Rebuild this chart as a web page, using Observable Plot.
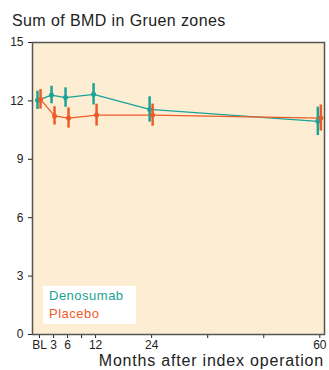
<!DOCTYPE html>
<html>
<head>
<meta charset="utf-8">
<script src="https://cdn.jsdelivr.net/npm/d3@7"></script>
<script src="https://cdn.jsdelivr.net/npm/@observablehq/plot@0.6"></script>
<style>
  body { margin:0; background:#fff; font-family:"Liberation Sans", Arial, Helvetica, sans-serif; }
  #wrap { position:relative; width:329px; height:370px; }
  #title { position:absolute; left:12px; top:12px; font-size:16px; letter-spacing:0.4px; color:#222; white-space:nowrap; }
  #chart { position:absolute; left:0; top:34px; }
  #xlabel { position:absolute; right:5px; top:353px; font-size:16px; letter-spacing:0.8px; line-height:16px; height:16px; color:#222; white-space:nowrap; }
  #legend { position:absolute; left:43px; top:286px; width:93px; height:38px; background:#fff; font-size:13px; letter-spacing:0.5px; }
  #legend div { position:absolute; left:6px; white-space:nowrap; }
</style>
</head>
<body>
<div id="wrap">
  <div id="title">Sum of BMD in Gruen zones</div>
  <div id="chart"></div>
  <div id="legend">
    <div style="top:2px;color:#1aa396">Denosumab</div>
    <div style="top:20px;color:#f05a28">Placebo</div>
  </div>
  <div id="xlabel">Months after index operation</div>
</div>
<script>
const months = [0, 3, 6, 12, 24, 60];
const denoMean = [12.03, 12.30, 12.17, 12.34, 11.56, 10.95];
const denoErr = [0.47, 0.45, 0.50, 0.55, 0.65, 0.73];
const placMean = [12.08, 11.23, 11.12, 11.27, 11.27, 11.12];
const placErr = [0.50, 0.47, 0.52, 0.56, 0.57, 0.67];
const xTicks = [0, 3, 6, 9, 12, 24, 36, 48, 60];
const xTickLabels = ["BL", "3", "6", "", "12", "24", "", "", "60"];
const yTicks = [0, 3, 6, 9, 12, 15];

const teal = "#1aa396", orange = "#f05a28";
const deno = months.map((m, i) => ({m, v: denoMean[i], e: denoErr[i]}));
const plac = months.map((m, i) => ({m, v: placMean[i], e: placErr[i]}));

const chart = Plot.plot({
  width: 329, height: 336,
  marginLeft: 32, marginRight: 5, marginTop: 8, marginBottom: 36,
  style: {fontFamily: '"Liberation Sans", Arial, Helvetica, sans-serif', fontSize: "12px", color: "#222", background: "transparent"},
  x: {domain: [-1.5, 61], ticks: xTicks, tickFormat: d => xTickLabels[xTicks.indexOf(d)], tickSize: 4, tickPadding: 2, label: null},
  y: {domain: [0, 15], ticks: yTicks, tickSize: 4, label: null},
  marks: [
    Plot.frame({fill: "#fdeed3"}),
    Plot.line(deno, {x: "m", y: "v", stroke: teal, strokeWidth: 1.3, dx: -2}),
    Plot.line(plac, {x: "m", y: "v", stroke: orange, strokeWidth: 1.3, dx: 1}),
    Plot.ruleX(deno, {x: "m", y1: d => d.v - d.e, y2: d => d.v + d.e, stroke: teal, strokeWidth: 2.5, dx: -2}),
    Plot.dot(deno, {x: "m", y: "v", fill: teal, r: 2.5, dx: -2}),
    Plot.ruleX(plac, {x: "m", y1: d => d.v - d.e, y2: d => d.v + d.e, stroke: orange, strokeWidth: 2.5, dx: 1}),
    Plot.dot(plac, {x: "m", y: "v", fill: orange, r: 2.5, dx: 1}),
    Plot.frame({stroke: "#555", strokeWidth: 1.5})
  ]
});
document.getElementById("chart").append(chart);
</script>
</body>
</html>
